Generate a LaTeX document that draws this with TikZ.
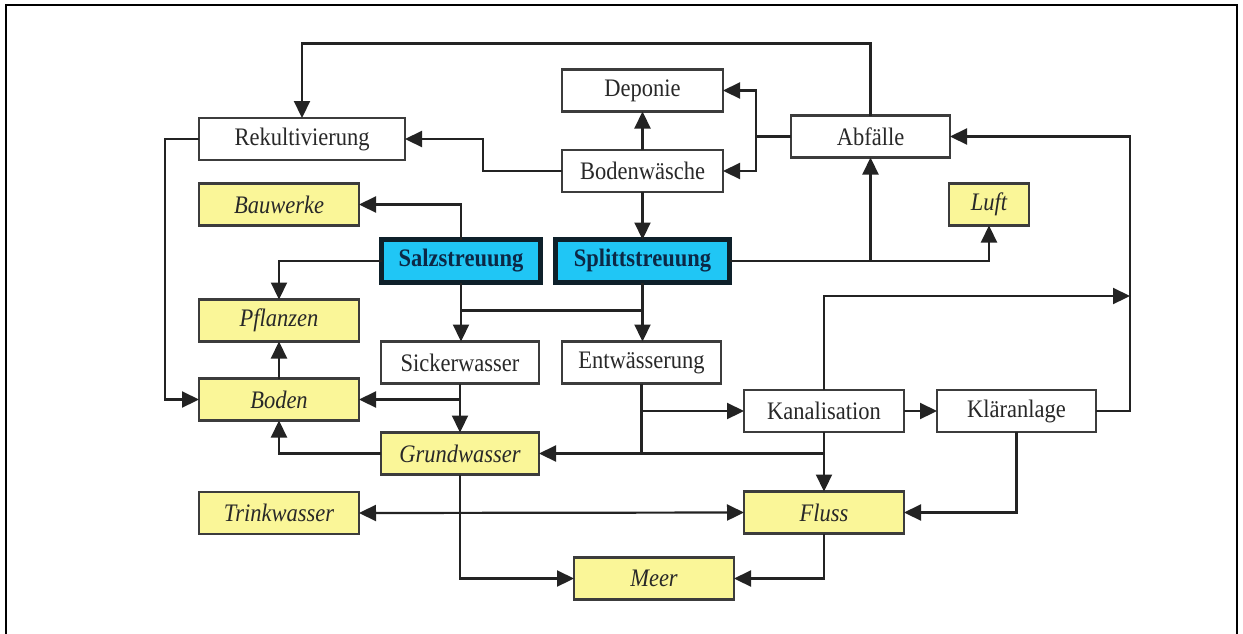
\documentclass[tikz,border=0pt]{standalone}
\usepackage{fontspec}
\setmainfont{Liberation Serif}
\usetikzlibrary{arrows.meta,calc}
\definecolor{boxline}{RGB}{60,60,60}
\definecolor{wire}{RGB}{35,35,35}
\definecolor{envfill}{RGB}{250,246,152}
\definecolor{srcfill}{RGB}{32,198,245}
\definecolor{srcline}{RGB}{14,32,42}
\definecolor{srctext}{RGB}{12,40,70}
\definecolor{txt}{RGB}{40,40,40}
\newcommand{\tallt}[1]{\scalebox{1}[1.12]{#1}}
\tikzset{
  base/.style={draw=boxline, line width=2.2pt, inner sep=0pt, outer sep=0pt,
    minimum width=160, minimum height=42, text=txt,
    font=\fontsize{22.5}{24}\selectfont},
  procbox/.style={base, fill=white},
  envbox/.style={base, fill=envfill, font=\fontsize{22.5}{24}\selectfont\itshape},
  srcbox/.style={base, fill=srcfill, draw=srcline, line width=5pt,
    minimum height=43, text=srctext, font=\fontsize{22.5}{24}\selectfont\bfseries},
  tip/.tip={Triangle[length=17pt,width=16pt]},
  flow/.style={draw=wire, line width=2.2pt, -tip},
  flowboth/.style={draw=wire, line width=2.2pt, tip-tip},
  wireline/.style={draw=wire, line width=2.2pt}
}
\begin{document}
\begin{tikzpicture}[x=1pt, y=-1pt]
\useasboundingbox (0,0) rectangle (1243,633);
% outer frame
\draw[line width=2.5pt, black] (6,640) -- (6,5) -- (1237,5) -- (1237,640);

% nodes
\node[procbox, minimum width=206] (rek) at (302,139) {\tallt{Rekultivierung}};
\node[procbox, minimum width=161] (dep) at (642.5,90.5) {\tallt{Deponie}};
\node[procbox, minimum width=161] (bw)  at (642.5,171) {\tallt{Bodenwäsche}};
\node[procbox, minimum width=159] (abf) at (870.5,136.5) {\tallt{Abfälle}};
\node[envbox] (bau) at (279,204.5) {\tallt{Bauwerke}};
\node[envbox, minimum width=80] (luft) at (989,204.5) {\tallt{Luft}};
\node[srcbox, minimum width=159] (salz) at (461,261) {\tallt{Salzstreuung}};
\node[srcbox, minimum width=174] (splitt) at (642.5,261) {\tallt{Splittstreuung}};
\node[envbox] (pfl) at (279,320.5) {\tallt{Pflanzen}};
\node[procbox, minimum width=158] (sick) at (460,362.5) {\tallt{Sickerwasser}};
\node[procbox, minimum width=159] (ent) at (641.5,362.5) {\tallt{Entwässerung}};
\node[envbox] (bod) at (279,399.5) {\tallt{Boden}};
\node[procbox] (kan) at (824,411) {\tallt{Kanalisation}};
\node[procbox, minimum width=159] (kla) at (1016.5,411) {\tallt{Kläranlage}};
\node[envbox, minimum width=158] (gw) at (460,453.5) {\tallt{Grundwasser}};
\node[envbox] (tw) at (279,513) {\tallt{Trinkwasser}};
\node[envbox] (fluss) at (824,512.5) {\tallt{Fluss}};
\node[envbox] (meer) at (654,578.5) {\tallt{Meer}};

% junction points
\coordinate (ajoin) at ($(abf.west)+(-35,0)$);
\coordinate (kright) at ($(kla.east)+(34,0)$);
\coordinate (ktop) at (1130,296);
\coordinate (split1) at ($(salz.south)+(0,28)$);
\coordinate (split2) at ($(splitt.south)+(0,28)$);

% Bodenwäsche
\draw[flow] (bw.north) -- (dep.south);
\draw[flow] (bw.south) -- (bw.south |- splitt.north);
\draw[flow] (bw.west) -- ++(-79,0) |- (rek.east);

% Abfälle
\draw[flow] (abf.north) -- ++(0,-72) -| (rek.north);
\draw[wireline] (abf.west) -- (ajoin);
\draw[flow] (ajoin) |- (dep.east);
\draw[flow] (ajoin) |- (bw.east);

% Splittstreuung
\draw[flow] (splitt.east) -| (luft.south);
\draw[flow] (abf.south |- splitt.east) -- (abf.south);
\draw[flow] (splitt.south) -- (splitt.south |- ent.north);

% Salzstreuung
\draw[flow] (salz.north) |- (bau.east);
\draw[flow] (salz.west) -| (pfl.north);
\draw[flow] (salz.south) -- (salz.south |- sick.north);
\draw[wireline] (split1) -- (split2);

% Kläranlage and Kanalisation
\draw[flow] (kla.east) -- (kright) |- (abf.east);
\draw[flow] (kan.north) |- (ktop);
\draw[flow] (kan.east) -- (kla.west);
\draw[flow] (kla.south) |- (fluss.east);
\draw[flow] (kan.south) -- (fluss.north);
\draw[flow] (kan.south |- gw.east) -- (gw.east);

% Entwässerung
\draw[wireline] (ent.south) -- (ent.south |- gw.east);
\draw[flow] (ent.south |- kan.west) -- (kan.west);

% Rekultivierung, Sickerwasser, Boden, Grundwasser
\draw[flow] (rek.west) -- ++(-34,0) |- (bod.west);
\draw[flow] (sick.south) -- (sick.south |- gw.north);
\draw[flow] (sick.south |- bod.east) -- (bod.east);
\draw[flow] (bod.north) -- (pfl.south);
\draw[flow] (gw.west) -| (bod.south);
\draw[flow] (gw.south) |- (meer.west);

% Fluss
\draw[flowboth] (tw.east) -- (fluss.west);
\draw[flow] (fluss.south) |- (meer.east);
\end{tikzpicture}
\end{document}
